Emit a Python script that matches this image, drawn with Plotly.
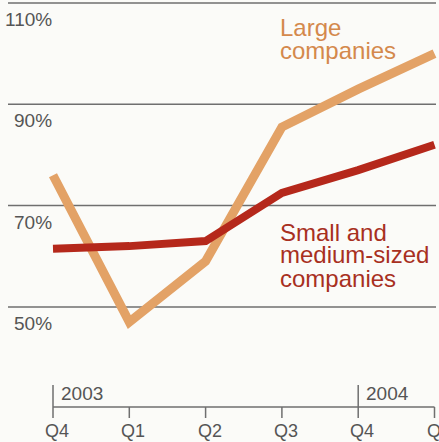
import plotly.graph_objects as go

# ---- data ----
quarters = ["Q4", "Q1", "Q2", "Q3", "Q4", "Q1"]
years = ["2003", "2004"]
year_start_idx = [0, 4]
large = [76, 47, 59, 85.5, 93, 100]
small = [61.5, 62, 63, 72.5, 77, 82]
y_ticks = [50, 70, 90, 110]
y_tick_labels = ["50%", "70%", "90%", "110%"]

W, H = 439, 442
ORANGE = "#E3A266"
RED = "#B5281B"
ORANGE_TXT = "#D4894C"
RED_TXT = "#A8301F"
GRID = "#6f6f6f"
TXT = "#555555"
FONT = "Liberation Sans, Arial, sans-serif"

def px(x):
    return x / W

def py(y):
    return 1 - y / H

# axis ranges chosen so the category/value scale lands where the reference has it
x_range = [-53 / 76.3, (W - 53) / 76.3]
y_range = [110 - (H - 3) * 20 / 101.3, 110 + 3 * 20 / 101.3]

x_idx = list(range(len(quarters)))

fig = go.Figure()
fig.add_trace(go.Scatter(x=x_idx, y=large, mode="lines",
                         line=dict(color=ORANGE, width=9), hoverinfo="skip"))
fig.add_trace(go.Scatter(x=x_idx, y=small, mode="lines",
                         line=dict(color=RED, width=8), hoverinfo="skip"))

shapes = []
annotations = []

# horizontal gridlines + labels under them
for v, lab in zip(y_ticks, y_tick_labels):
    shapes.append(dict(type="line", xref="paper", yref="y", x0=px(8), x1=px(436),
                       y0=v, y1=v, line=dict(color=GRID, width=1.5), layer="below"))
    annotations.append(dict(xref="paper", yref="y", x=px(54), y=v, text=lab,
                            showarrow=False, xanchor="right", yanchor="top", yshift=-4,
                            font=dict(family=FONT, size=19, color=TXT)))

# bottom time axis
axis_y = py(407)
shapes.append(dict(type="line", xref="x", yref="paper", x0=x_idx[0], x1=x_idx[-1],
                   y0=axis_y, y1=axis_y, line=dict(color=GRID, width=1.5)))
for i, q in zip(x_idx, quarters):
    top = py(385) if i in year_start_idx else axis_y
    shapes.append(dict(type="line", xref="x", yref="paper", x0=i, x1=i,
                       y0=py(418), y1=top, line=dict(color=GRID, width=1.5)))
    annotations.append(dict(xref="x", yref="paper", x=i, y=py(431), text=q,
                            showarrow=False, xanchor="center", yanchor="middle", xshift=4,
                            font=dict(family=FONT, size=18, color=TXT)))
for yr, i in zip(years, year_start_idx):
    annotations.append(dict(xref="x", yref="paper", x=i, y=py(393), text=yr,
                            showarrow=False, xanchor="left", yanchor="middle", xshift=6,
                            font=dict(family=FONT, size=19, color=TXT)))

# series labels
for txt, ybase in [("Large", 35), ("companies", 58)]:
    annotations.append(dict(xref="paper", yref="paper", x=px(278), y=py(ybase - 8),
                            text=txt, showarrow=False, xanchor="left", yanchor="middle",
                            font=dict(family=FONT, size=24, color=ORANGE_TXT)))
for txt, ybase in [("Small and", 240), ("medium-sized", 263), ("companies", 286)]:
    annotations.append(dict(xref="paper", yref="paper", x=px(278), y=py(ybase - 8),
                            text=txt, showarrow=False, xanchor="left", yanchor="middle",
                            font=dict(family=FONT, size=24, color=RED_TXT)))

fig.update_layout(
    width=W, height=H,
    margin=dict(l=0, r=0, t=0, b=0),
    paper_bgcolor="#fbfbf8", plot_bgcolor="#fbfbf8",
    showlegend=False,
    xaxis=dict(range=x_range, visible=False, fixedrange=True),
    yaxis=dict(range=y_range, visible=False, fixedrange=True),
    shapes=shapes, annotations=annotations,
)

fig.write_html("out.html", config={"displayModeBar": False})
